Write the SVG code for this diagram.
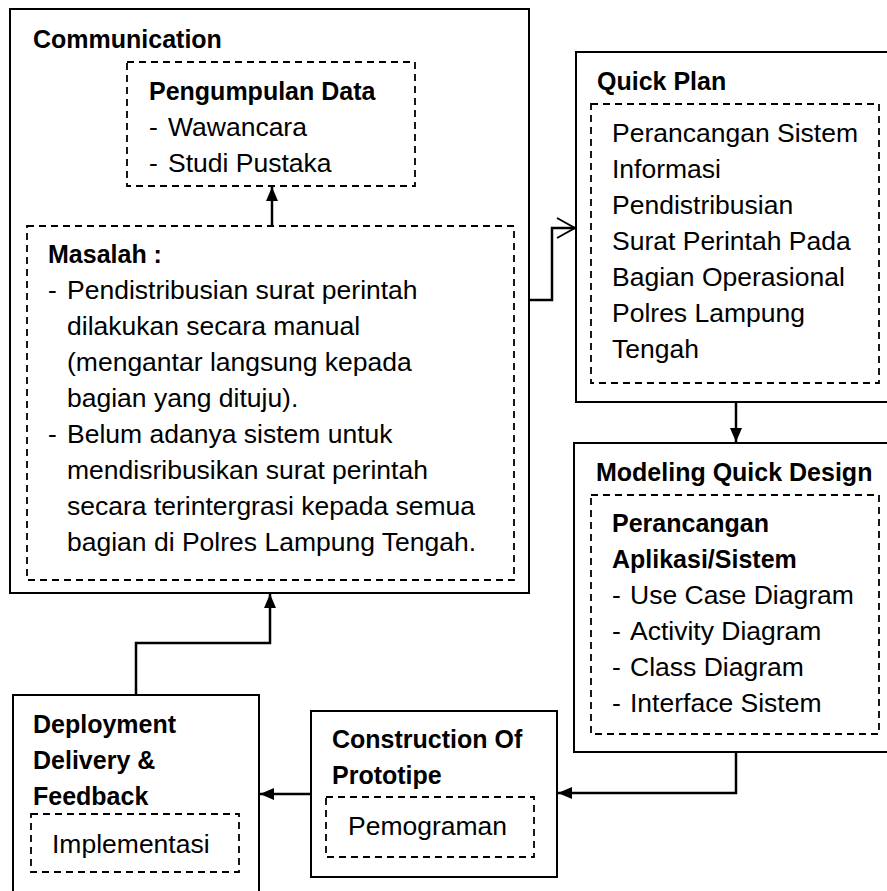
<svg xmlns="http://www.w3.org/2000/svg" width="887" height="891" viewBox="0 0 887 891">
<defs>
<style>
.box{fill:#fff;stroke:#000;stroke-width:2}
.dash{fill:none;stroke:#000;stroke-width:1.8;stroke-dasharray:7 5}
.t{font-family:"Liberation Sans",Arial,sans-serif;font-size:26.5px;fill:#000}
.b{font-family:"Liberation Sans",Arial,sans-serif;font-size:25px;font-weight:bold;fill:#000}
.con{fill:none;stroke:#000;stroke-width:2.5}
</style>
<marker id="arr" viewBox="0 0 14 12" refX="14" refY="6" markerWidth="14" markerHeight="12" markerUnits="userSpaceOnUse" orient="auto">
<path d="M0,0 L14,6 L0,12 Z" fill="#000"/>
</marker>
<marker id="open" viewBox="0 0 20 22" refX="19" refY="11" markerWidth="20" markerHeight="22" markerUnits="userSpaceOnUse" orient="auto">
<path d="M1,1 L19,11 L1,21" fill="none" stroke="#000" stroke-width="2"/>
</marker>
</defs>
<rect width="887" height="891" fill="#fff"/>

<g id="communication">
<rect class="box" x="10" y="9" width="519" height="584"/>
<text class="b" x="33" y="48">Communication</text>
<g id="pengumpulan">
<rect class="dash" x="127" y="62" width="288" height="124"/>
<text class="b" x="149" y="100">Pengumpulan Data</text>
<text class="t" x="149" y="136">-</text><text class="t" x="168" y="136">Wawancara</text>
<text class="t" x="149" y="172">-</text><text class="t" x="168" y="172">Studi Pustaka</text>
</g>
<g id="masalah">
<rect class="dash" x="27" y="226" width="487" height="354"/>
<text class="b" x="48" y="263">Masalah :</text>
<text class="t" x="48" y="299">-</text><text class="t" x="67" y="299">Pendistribusian surat perintah</text>
<text class="t" x="67" y="335">dilakukan secara manual</text>
<text class="t" x="67" y="371">(mengantar langsung kepada</text>
<text class="t" x="67" y="407">bagian yang dituju).</text>
<text class="t" x="48" y="443">-</text><text class="t" x="67" y="443">Belum adanya sistem untuk</text>
<text class="t" x="67" y="479">mendisribusikan surat perintah</text>
<text class="t" x="67" y="515">secara terintergrasi kepada semua</text>
<text class="t" x="67" y="551">bagian di Polres Lampung Tengah.</text>
</g>
</g>

<g id="quickplan">
<rect class="box" x="576" y="52" width="320" height="350"/>
<text class="b" x="597" y="90">Quick Plan</text>
<rect class="dash" x="591" y="104" width="288" height="279"/>
<text class="t" x="612" y="142">Perancangan Sistem</text>
<text class="t" x="612" y="178">Informasi</text>
<text class="t" x="612" y="214">Pendistribusian</text>
<text class="t" x="612" y="250">Surat Perintah Pada</text>
<text class="t" x="612" y="286">Bagian Operasional</text>
<text class="t" x="612" y="322">Polres Lampung</text>
<text class="t" x="612" y="358">Tengah</text>
</g>

<g id="modeling">
<rect class="box" x="574" y="443" width="322" height="309"/>
<text class="b" x="596" y="481">Modeling Quick Design</text>
<rect class="dash" x="591" y="495" width="288" height="239"/>
<text class="b" x="612" y="532">Perancangan</text>
<text class="b" x="612" y="568">Aplikasi/Sistem</text>
<text class="t" x="612" y="604">-</text><text class="t" x="630" y="604">Use Case Diagram</text>
<text class="t" x="612" y="640">-</text><text class="t" x="630" y="640">Activity Diagram</text>
<text class="t" x="612" y="676">-</text><text class="t" x="630" y="676">Class Diagram</text>
<text class="t" x="612" y="712">-</text><text class="t" x="630" y="712">Interface Sistem</text>
</g>

<g id="construction">
<rect class="box" x="311" y="711" width="246" height="166"/>
<text class="b" x="332" y="748">Construction Of</text>
<text class="b" x="332" y="784">Prototipe</text>
<rect class="dash" x="326" y="797" width="208" height="60"/>
<text class="t" x="348" y="835">Pemograman</text>
</g>

<g id="deployment">
<rect class="box" x="13" y="695" width="246" height="210"/>
<text class="b" x="33" y="733">Deployment</text>
<text class="b" x="33" y="769">Delivery &amp;</text>
<text class="b" x="33" y="805">Feedback</text>
<rect class="dash" x="31" y="814" width="208" height="58"/>
<text class="t" x="52" y="853">Implementasi</text>
</g>

<g id="connectors">
<path class="con" d="M272,226 L272,187" marker-end="url(#arr)"/>
<path class="con" d="M529,300 L552,300 L552,228 L575,228" marker-end="url(#open)"/>
<path class="con" d="M736,402 L736,442" marker-end="url(#arr)"/>
<path class="con" d="M736,752 L736,793 L558,793" marker-end="url(#arr)"/>
<path class="con" d="M311,794 L260,794" marker-end="url(#arr)"/>
<path class="con" d="M136,695 L136,643 L270,643 L270,594" marker-end="url(#arr)"/>
</g>
</svg>
